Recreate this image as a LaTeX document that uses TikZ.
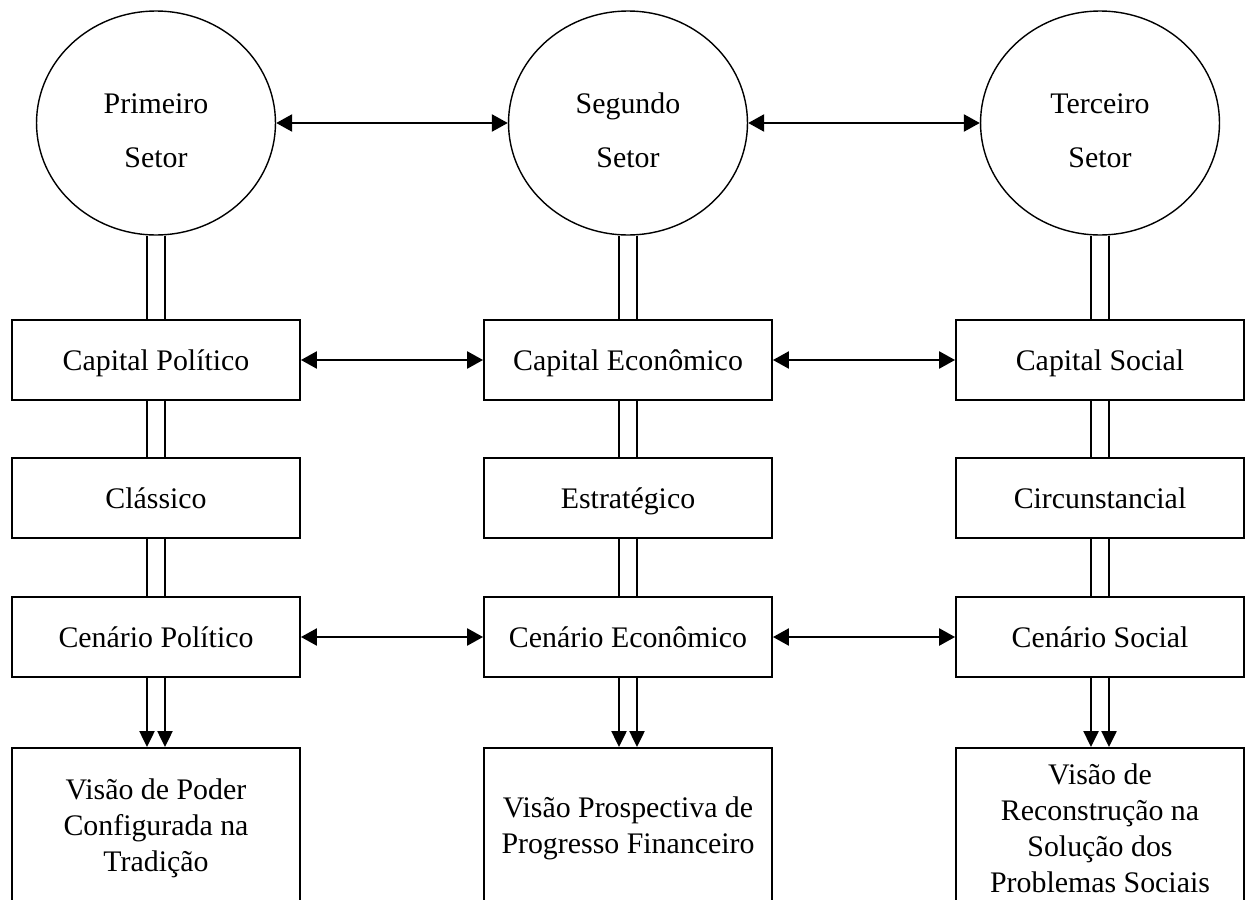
\documentclass[tikz,border=0pt]{standalone}
\usepackage{fontspec}
\setmainfont{Liberation Serif}
\usetikzlibrary{shapes.geometric, arrows.meta}
\tikzset{
  sector/.style={ellipse, draw, line width=0.8pt,
    minimum width=4.78cm, minimum height=4.48cm,
    align=center, font=\fontsize{17}{31}\selectfont},
  cell/.style={rectangle, draw, line width=1.1pt,
    minimum width=5.76cm, align=center,
    font=\fontsize{17}{20.5}\selectfont},
  box/.style={cell, minimum height=1.6cm, text height=13.5pt, text depth=2pt},
  visbox/.style={cell, minimum height=3.2cm, anchor=north},
  arrow/.style={{Triangle[length=0.32cm,width=0.34cm]}-{Triangle[length=0.32cm,width=0.34cm]}, line width=1.4pt},
  downarrow/.style={-{Triangle[length=0.32cm,width=0.3cm]}, line width=1.4pt},
  dline/.style={double, double distance=0.33cm, line width=0.9pt}
}
\begin{document}
\begin{tikzpicture}[x=0.02cm, y=-0.02cm]
  \useasboundingbox (0,0) rectangle (1250,899);
  \clip (0,0) rectangle (1250,899);

  % Sectors
  \node[sector] (s1) at (156,123) {\rule{0pt}{20pt}Primeiro\\Setor};
  \node[sector] (s2) at (628,123) {\rule{0pt}{20pt}Segundo\\Setor};
  \node[sector] (s3) at (1100,123) {\rule{0pt}{20pt}Terceiro\\Setor};

  % Capital
  \node[box] (cap1) at (156,360) {Capital Político};
  \node[box] (cap2) at (628,360) {Capital Econômico};
  \node[box] (cap3) at (1100,360) {Capital Social};

  % Type
  \node[box] (typ1) at (156,498) {Clássico};
  \node[box] (typ2) at (628,498) {Estratégico};
  \node[box] (typ3) at (1100,498) {Circunstancial};

  % Scenario
  \node[box] (cen1) at (156,637) {Cenário Político};
  \node[box] (cen2) at (628,637) {Cenário Econômico};
  \node[box] (cen3) at (1100,637) {Cenário Social};

  % Vision
  \node[visbox] (vis1) at (156,747) {Visão de Poder\\Configurada na\\Tradição};
  \node[visbox] (vis2) at (628,747) {Visão Prospectiva de\\Progresso Financeiro};
  \node[visbox] (vis3) at (1100,747) {Visão de\\Reconstrução na\\Solução dos\\Problemas Sociais};

  % Links between columns
  \draw[arrow] (s1) -- (s2);
  \draw[arrow] (s2) -- (s3);
  \draw[arrow] (cap1) -- (cap2);
  \draw[arrow] (cap2) -- (cap3);
  \draw[arrow] (cen1) -- (cen2);
  \draw[arrow] (cen2) -- (cen3);

  % Columns
  \foreach \i in {1,2,3} {
    \draw[dline] (s\i) -- (cap\i);
    \draw[dline] (cap\i) -- (typ\i);
    \draw[dline] (typ\i) -- (cen\i);
    \draw[downarrow] ([xshift=-0.18cm]cen\i.south) -- ([xshift=-0.18cm]vis\i.north);
    \draw[downarrow] ([xshift=0.18cm]cen\i.south) -- ([xshift=0.18cm]vis\i.north);
  }
\end{tikzpicture}
\end{document}
